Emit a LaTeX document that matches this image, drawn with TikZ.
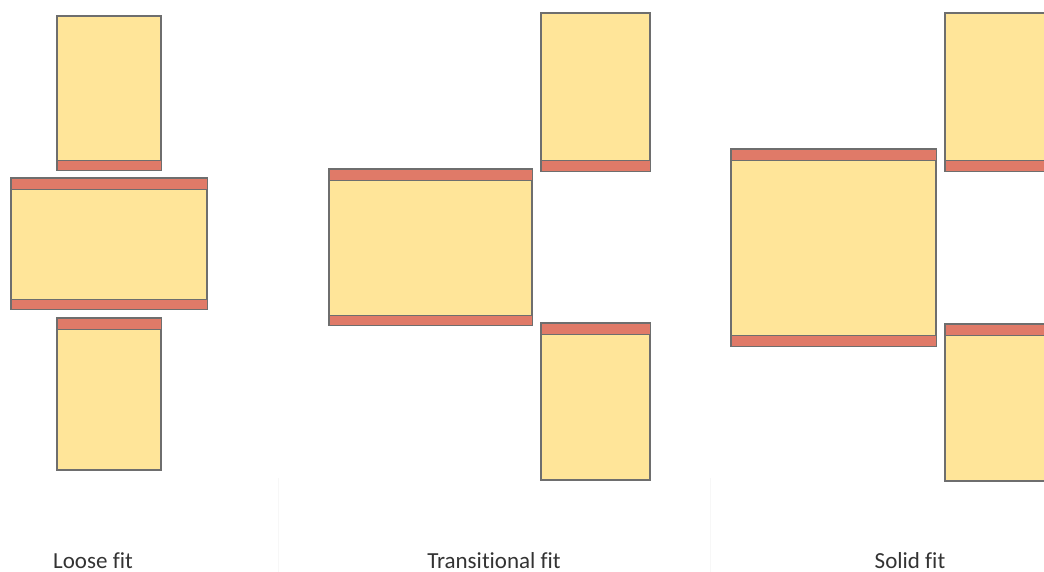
\documentclass[tikz,border=0pt]{standalone}
\usepackage{fontspec}
\setmainfont[Ligatures=NoCommon]{Carlito}
\usetikzlibrary{positioning}
\definecolor{partyellow}{HTML}{FFE599}
\definecolor{bandred}{HTML}{E07A68}
\definecolor{edgegray}{HTML}{6E6E6E}
\begin{document}
\begin{tikzpicture}[x=1pt,y=-1pt,
 part/.style={draw=edgegray,line width=1.6pt,fill=partyellow},
 band/.style={draw=edgegray,line width=0.8pt,fill=bandred},
 lbl/.style={font=\fontsize{23}{26}\selectfont,text=black!80,anchor=base}]
\useasboundingbox (0,0) rectangle (1044,572);
\clip (0,0) rectangle (1044,572);
% faint panel separators
\draw[gray!6,line width=1pt] (278,478)--(278,572) (710,478)--(710,572);
% loose fit
\draw[part] (57,16) rectangle (161,170);
\draw[band] (57,160) rectangle (161,170);
\draw[part] (11,178) rectangle (207,309);
\draw[band] (11,178) rectangle (207,189);
\draw[band] (11,299) rectangle (207,309);
\draw[part] (57,318) rectangle (161,470);
\draw[band] (57,318) rectangle (161,329);
% transitional fit
\draw[part] (329,169) rectangle (532,325);
\draw[band] (329,169) rectangle (532,180);
\draw[band] (329,315) rectangle (532,325);
\draw[part] (541,13) rectangle (650,171);
\draw[band] (541,160) rectangle (650,171);
\draw[part] (541,323) rectangle (650,480);
\draw[band] (541,323) rectangle (650,334);
% solid fit
\draw[part] (731,149) rectangle (936,346);
\draw[band] (731,149) rectangle (936,160);
\draw[band] (731,335) rectangle (936,346);
\draw[part] (945,13) rectangle (1060,171);
\draw[band] (945,160) rectangle (1060,171);
\draw[part] (945,324) rectangle (1060,481);
\draw[band] (945,324) rectangle (1060,335);
% labels
\node[lbl] (loose) at (93,568) {Loose fit};
\node[lbl] (trans) at (494,568) {Transitional fit};
\node[lbl] (solid) at (910,568) {Solid fit};
\end{tikzpicture}
\end{document}
